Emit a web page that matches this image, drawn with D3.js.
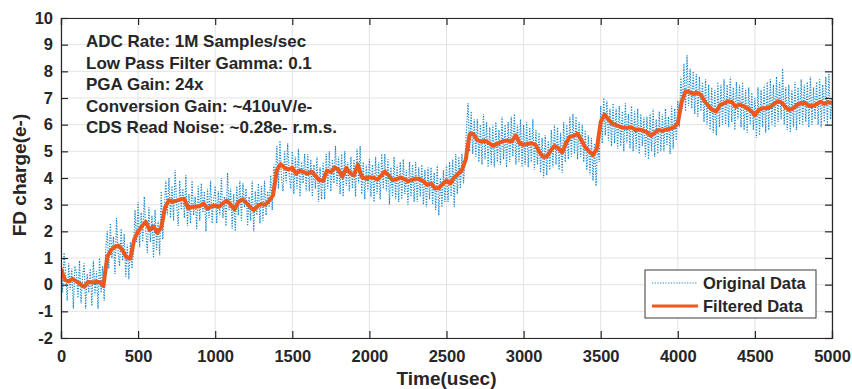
<!DOCTYPE html>
<html>
<head>
<meta charset="utf-8">
<script src="https://cdn.jsdelivr.net/npm/d3@7"></script>
<style>
  body { margin: 0; background: #fff; }
  text { font-family: "Liberation Sans", Arial, sans-serif; font-weight: bold; fill: #262626; }
</style>
</head>
<body>
<script>
const width = 852;
const height = 389;
const margin = {top: 18, right: 20, bottom: 51, left: 61};

// sample spacing (usec) of the two series
const rawStep = 10;
const filtStep = 25;

// Original Data, one value per 10 usec (e-)
const originalData = [
  0.9, -0.3, 1.2, 0.4, -0.6, 0.8, -0.2, 0.6, -0.9, 0.7,
  0.5, -0.5, 0.9, -0.7, 0.3, 0.8, -0.9, 0.4, -0.3, 0.6,
  -0.8, 0.9, -0.4, 0.5, -0.9, 1.0, -0.3, 0.7, -0.6, 1.3,
  2.0, 0.6, 2.3, 1.0, 1.8, 0.4, 2.5, 1.2, 0.7, 2.1,
  0.9, 1.9, 0.3, 1.5, 0.2, 1.6, 0.6, 1.2, 2.8, 1.6,
  3.1, 1.4, 2.7, 1.6, 3.3, 2.0, 1.2, 2.9, 1.6, 2.6,
  1.0, 2.8, 1.3, 2.4, 1.1, 3.5, 1.7, 2.8, 3.9, 2.6,
  4.0, 2.5, 3.7, 2.4, 4.3, 3.0, 2.2, 3.9, 2.8, 3.6,
  2.5, 4.1, 2.2, 3.4, 2.3, 3.9, 2.6, 3.3, 2.1, 3.7,
  2.4, 3.8, 2.7, 3.5, 2.0, 3.6, 2.5, 3.9, 2.3, 3.2,
  3.7, 2.3, 3.5, 2.6, 4.0, 2.5, 3.3, 2.2, 4.2, 2.8,
  3.6, 2.1, 3.4, 2.0, 3.7, 2.6, 3.9, 2.4, 3.8, 2.9,
  3.6, 2.2, 3.3, 2.4, 3.9, 2.0, 3.5, 2.6, 3.8, 2.3,
  3.7, 2.4, 3.9, 2.6, 3.5, 2.9, 4.1, 2.8, 4.5, 4.0,
  5.2, 3.6, 5.4, 4.0, 3.5, 5.0, 3.8, 5.3, 4.1, 3.6,
  5.0, 3.4, 4.8, 3.6, 5.1, 3.3, 4.6, 3.8, 4.9, 3.5,
  4.9, 3.5, 4.7, 3.3, 4.5, 3.6, 4.8, 3.1, 4.4, 3.2,
  4.6, 3.2, 4.9, 3.6, 5.0, 3.5, 4.7, 3.8, 5.2, 3.7,
  4.8, 3.4, 4.9, 3.3, 5.0, 3.7, 4.6, 3.5, 4.8, 3.6,
  4.7, 3.3, 5.1, 3.8, 5.2, 3.4, 4.6, 3.2, 4.5, 3.5,
  4.7, 3.3, 4.5, 3.1, 4.8, 3.4, 4.6, 3.2, 4.9, 3.6,
  4.9, 3.5, 4.7, 3.0, 4.4, 3.3, 4.8, 3.2, 4.5, 3.1,
  4.6, 3.2, 4.7, 3.4, 4.3, 3.0, 4.6, 3.3, 4.5, 3.1,
  4.6, 3.1, 4.4, 3.3, 4.5, 3.0, 4.3, 2.9, 4.4, 3.2,
  4.4, 3.0, 4.2, 2.8, 4.5, 2.6, 4.0, 2.9, 4.3, 3.1,
  4.5, 3.1, 4.6, 3.3, 4.7, 2.9, 4.9, 3.4, 4.8, 3.6,
  4.9, 3.8, 4.6, 5.9, 6.8, 5.0, 6.5, 4.9, 6.2, 4.8,
  6.2, 4.6, 6.0, 4.5, 6.4, 4.7, 6.1, 4.4, 5.9, 4.5,
  6.0, 4.4, 6.1, 4.6, 5.8, 4.5, 6.3, 4.7, 6.0, 4.4,
  6.1, 4.6, 6.3, 4.8, 6.4, 4.5, 6.0, 4.6, 6.2, 4.4,
  6.0, 4.5, 6.1, 4.4, 5.9, 4.6, 6.2, 4.3, 5.8, 4.5,
  5.7, 4.2, 5.5, 4.0, 5.6, 4.1, 5.4, 4.3, 5.8, 4.4,
  6.0, 4.5, 5.9, 4.3, 5.7, 4.2, 6.1, 4.6, 6.0, 4.7,
  6.3, 4.8, 6.4, 4.9, 6.3, 4.7, 6.1, 4.8, 6.0, 4.6,
  5.8, 4.3, 5.6, 4.1, 5.5, 3.9, 5.3, 3.7, 5.4, 4.6,
  6.7, 5.3, 7.0, 5.6, 6.9, 5.4, 6.6, 5.2, 6.8, 5.3,
  6.6, 5.1, 6.7, 5.2, 6.5, 5.0, 6.8, 5.3, 6.4, 5.1,
  6.7, 5.0, 6.5, 5.1, 6.6, 4.9, 6.4, 5.2, 6.3, 4.8,
  6.3, 4.7, 6.4, 5.0, 6.6, 4.8, 6.2, 4.9, 6.5, 5.0,
  6.4, 5.0, 6.6, 5.2, 6.3, 4.9, 6.7, 5.1, 6.6, 5.4,
  6.9, 5.9, 7.8, 6.6, 8.3, 6.5, 8.6, 6.7, 8.1, 6.6,
  8.0, 6.4, 7.9, 6.3, 7.8, 6.5, 7.6, 6.1, 7.7, 6.0,
  7.5, 5.8, 7.4, 5.7, 7.3, 5.6, 7.6, 5.9, 7.5, 6.0,
  7.7, 6.0, 7.5, 5.9, 7.8, 6.1, 7.4, 5.8, 7.6, 6.2,
  7.5, 5.9, 7.6, 5.8, 7.3, 5.7, 7.4, 6.0, 7.2, 5.8,
  7.0, 5.5, 7.4, 5.6, 7.3, 5.9, 7.5, 5.7, 7.6, 5.8,
  7.7, 6.0, 7.5, 5.9, 7.8, 6.1, 7.6, 6.2, 8.1, 6.0,
  7.4, 5.8, 7.5, 5.7, 7.3, 5.9, 7.6, 5.8, 7.4, 6.0,
  7.7, 6.0, 7.5, 6.1, 7.6, 5.9, 7.8, 6.0, 7.4, 6.2,
  7.6, 6.0, 7.7, 5.9, 7.5, 6.1, 7.8, 6.0, 7.9, 6.2,
  7.0
];

// Filtered Data, one value per 25 usec (e-)
const filteredData = [
  0.60, 0.18, 0.12, 0.22, 0.12, 0.02, -0.08, 0.10, 0.08, 0.10, 0.10, -0.05, 1.05, 1.30, 1.42, 1.46, 1.28, 1.02, 0.98, 1.70,
  2.00, 2.20, 2.36, 2.05, 2.18, 1.94, 2.15, 2.90, 3.16, 3.12, 3.15, 3.20, 3.22, 2.86, 2.92, 2.92, 2.95, 3.05, 2.84, 2.94,
  2.96, 2.92, 3.05, 3.15, 3.00, 2.82, 3.10, 3.20, 3.08, 2.92, 2.80, 2.95, 3.02, 3.00, 3.15, 3.35, 4.30, 4.52, 4.38, 4.32,
  4.38, 4.16, 4.28, 4.22, 4.16, 4.24, 4.08, 3.92, 3.90, 4.28, 4.22, 4.40, 4.30, 4.05, 4.38, 4.18, 4.10, 4.50, 4.05, 3.98,
  4.02, 4.02, 3.94, 4.08, 4.24, 4.10, 3.92, 3.95, 4.02, 3.96, 3.88, 3.93, 3.98, 3.96, 3.88, 3.74, 3.80, 3.62, 3.62, 3.78,
  3.90, 3.80, 4.02, 4.15, 4.30, 4.70, 5.65, 5.65, 5.42, 5.36, 5.40, 5.32, 5.20, 5.27, 5.34, 5.40, 5.40, 5.38, 5.60, 5.30,
  5.24, 5.28, 5.30, 5.26, 5.00, 4.80, 4.80, 5.02, 5.20, 5.12, 4.95, 5.30, 5.55, 5.58, 5.66, 5.42, 5.15, 5.00, 4.86, 5.10,
  6.10, 6.38, 6.20, 6.04, 5.99, 5.92, 5.88, 5.88, 5.90, 5.80, 5.82, 5.78, 5.72, 5.58, 5.70, 5.80, 5.77, 5.82, 5.85, 5.90,
  6.05, 6.86, 7.25, 7.22, 7.15, 7.20, 7.12, 6.86, 6.70, 6.55, 6.50, 6.74, 6.80, 6.88, 6.85, 6.67, 6.76, 6.70, 6.62, 6.52,
  6.35, 6.55, 6.62, 6.62, 6.67, 6.78, 6.88, 6.82, 6.65, 6.55, 6.62, 6.75, 6.80, 6.82, 6.70, 6.70, 6.76, 6.86, 6.78, 6.84,
  6.82
];

const xTicks = [0, 500, 1000, 1500, 2000, 2500, 3000, 3500, 4000, 4500, 5000];
const yTicks = [-2, -1, 0, 1, 2, 3, 4, 5, 6, 7, 8, 9, 10];

const notes = [
  'ADC Rate: 1M Samples/sec',
  'Low Pass Filter Gamma: 0.1',
  'PGA Gain: 24x',
  'Conversion Gain: ~410uV/e-',
  'CDS Read Noise: ~0.28e- r.m.s.'
];

const seriesNames = ['Original Data', 'Filtered Data'];

const innerW = width - margin.left - margin.right;
const innerH = height - margin.top - margin.bottom;

const svg = d3.select('body').append('svg')
    .attr('width', width)
    .attr('height', height);

const g = svg.append('g')
    .attr('transform', `translate(${margin.left},${margin.top})`);

const x = d3.scaleLinear().domain([0, 5000]).range([0, innerW]);
const y = d3.scaleLinear().domain([-2, 10]).range([innerH, 0]);

// grid
const grid = g.append('g').attr('class', 'grid');
grid.selectAll('line.gx').data(xTicks).enter().append('line')
    .attr('class', 'gx')
    .attr('x1', d => x(d)).attr('x2', d => x(d))
    .attr('y1', 0).attr('y2', innerH);
grid.selectAll('line.gy').data(yTicks).enter().append('line')
    .attr('class', 'gy')
    .attr('x1', 0).attr('x2', innerW)
    .attr('y1', d => y(d)).attr('y2', d => y(d));
grid.selectAll('line').attr('stroke', '#e3e3e3').attr('stroke-width', 1);

svg.append('clipPath').attr('id', 'plot')
    .append('rect').attr('width', innerW).attr('height', innerH);

const raw = originalData.map((v, i) => [i * rawStep, v]);
const filt = filteredData.map((v, i) => [i * filtStep, v]);

const line = d3.line().x(d => x(d[0])).y(d => y(d[1]));

const plot = g.append('g').attr('clip-path', 'url(#plot)');

plot.append('path')
    .datum(raw)
    .attr('fill', 'none')
    .attr('stroke', '#1487cc')
    .attr('stroke-width', 1.2)
    .attr('stroke-dasharray', '1.2,1.5')
    .attr('d', line);

plot.append('path')
    .datum(filt)
    .attr('fill', 'none')
    .attr('stroke', '#ee581d')
    .attr('stroke-width', 4)
    .attr('stroke-linejoin', 'round')
    .attr('d', line);

// axes, ticks pointing inward like matlab
function styleAxis(sel) {
    sel.select('.domain').attr('stroke', '#262626').attr('stroke-width', 1.2);
    sel.selectAll('.tick line').attr('stroke', '#262626').attr('stroke-width', 1.2);
    sel.selectAll('.tick text').attr('fill', '#262626')
        .style('font-size', '16.5px').style('font-weight', 'bold')
        .style('font-family', '"Liberation Sans", Arial, sans-serif');
}

const plain = d => String(d);

g.append('g')
    .attr('transform', `translate(0,${innerH})`)
    .call(d3.axisBottom(x).tickValues(xTicks).tickSize(-7).tickPadding(12).tickFormat(plain))
    .call(styleAxis);

g.append('g')
    .call(d3.axisTop(x).tickValues(xTicks).tickSize(-7).tickFormat(''))
    .call(styleAxis);

g.append('g')
    .call(d3.axisLeft(y).tickValues(yTicks).tickSize(-7).tickPadding(8).tickFormat(plain))
    .call(styleAxis);

g.append('g')
    .attr('transform', `translate(${innerW},0)`)
    .call(d3.axisRight(y).tickValues(yTicks).tickSize(-7).tickFormat(''))
    .call(styleAxis);

// axis titles
svg.append('text')
    .attr('x', margin.left + innerW / 2)
    .attr('y', 385)
    .attr('text-anchor', 'middle')
    .style('font-size', '19px')
    .text('Time(usec)');

svg.append('text')
    .attr('transform', `translate(26,${margin.top + innerH / 2 - 3}) rotate(-90)`)
    .attr('text-anchor', 'middle')
    .style('font-size', '19px')
    .text('FD charge(e-)');

// parameter notes
g.append('g').selectAll('text')
    .data(notes).enter().append('text')
    .attr('x', 25)
    .attr('y', (d, i) => 29 + i * 21.6)
    .style('font-size', '17px')
    .text(d => d);

// legend
const legend = svg.append('g').attr('transform', 'translate(645,270)');
legend.append('rect')
    .attr('width', 171).attr('height', 48)
    .attr('fill', '#fff')
    .attr('stroke', '#3a3a3a').attr('stroke-width', 1);

const legendStyles = [
    {stroke: '#1487cc', width: 1.2, dash: '1.2,1.5'},
    {stroke: '#ee581d', width: 3.2, dash: null}
];

seriesNames.forEach((name, i) => {
    const ly = 13 + i * 23;
    legend.append('line')
        .attr('x1', 7).attr('x2', 53)
        .attr('y1', ly).attr('y2', ly)
        .attr('stroke', legendStyles[i].stroke)
        .attr('stroke-width', legendStyles[i].width)
        .attr('stroke-dasharray', legendStyles[i].dash);
    legend.append('text')
        .attr('x', 58).attr('y', ly + 6)
        .style('font-size', '16.5px')
        .text(name);
});
</script>
</body>
</html>
